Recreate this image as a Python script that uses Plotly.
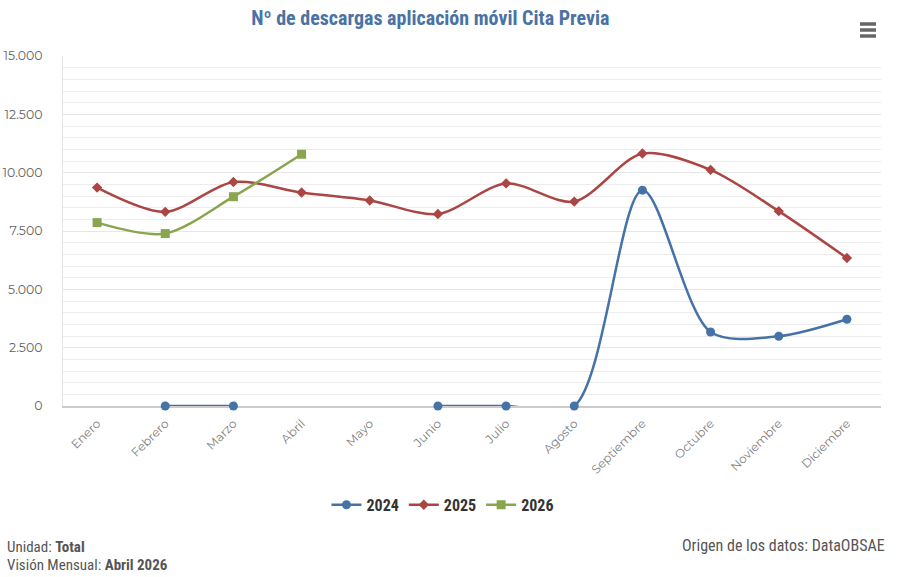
import plotly.graph_objects as go

meses = ["Enero", "Febrero", "Marzo", "Abril", "Mayo", "Junio", "Julio",
         "Agosto", "Septiembre", "Octubre", "Noviembre", "Diciembre"]
v2024 = [None, 0, 0, None, None, 0, 0, 0, 9250, 3170, 2990, 3720]
v2025 = [9360, 8320, 9600, 9150, 8810, 8230, 9540, 8760, 10820, 10120, 8350, 6340]
v2026 = [7860, 7390, 8970, 10790, None, None, None, None, None, None, None, None]
ytick_vals = [0, 2500, 5000, 7500, 10000, 12500, 15000]

narrow = "Liberation Sans Narrow, Roboto Condensed, Arial Narrow, sans-serif"

fig = go.Figure()
series = [
    ("2024", v2024, "#4572A7", "circle", 9),
    ("2025", v2025, "#AA4643", "diamond", 8),
    ("2026", v2026, "#89A54E", "square", 9),
]
for name, vals, color, sym, size in series:
    fig.add_trace(go.Scatter(
        x=meses, y=vals, name=name, mode="lines+markers",
        line=dict(color=color, width=2.5, shape="spline", smoothing=0.85),
        marker=dict(symbol=sym, size=size, color=color),
        connectgaps=False, cliponaxis=False,
    ))

fig.update_layout(
    width=904, height=577,
    margin=dict(l=63, r=23, t=56, b=171, autoexpand=False),
    paper_bgcolor="white", plot_bgcolor="white",
    separators=",.",
    title=dict(text="<b>Nº de descargas aplicación móvil Cita Previa</b>",
               x=0.476, xref="container", xanchor="center",
               y=0.968, yref="container", yanchor="middle", automargin=False,
               font=dict(family=narrow, size=20, color="#4a72a5")),
    showlegend=True,
    legend=dict(orientation="h", x=0.49, xref="container", xanchor="center",
                y=0.125, yref="container", yanchor="middle",
                font=dict(family=narrow, size=16, color="#333333", weight="bold"),
                itemwidth=30, tracegroupgap=0),
    xaxis=dict(
        type="category", tickangle=-45, automargin=False,
        range=[-0.5, len(meses) - 0.5],
        tickfont=dict(family="Montserrat, Open Sans, sans-serif", size=12, color="#808080"),
        showgrid=False, showline=True, linecolor="#cccccc", linewidth=1.5,
        ticks="", ticklabelstandoff=4, fixedrange=True, layer="below traces",
    ),
    yaxis=dict(
        range=[0, 15000], tickvals=ytick_vals, tickformat=",d", automargin=False,
        tickfont=dict(family="Montserrat, Open Sans, sans-serif", size=12.5, color="#666666"),
        showgrid=True, gridcolor="#e6e6e6", gridwidth=1,
        minor=dict(dtick=500, showgrid=True, gridcolor="#ececec", gridwidth=1),
        showline=True, linecolor="#e6e6e6", linewidth=1,
        zeroline=False, ticks="", ticklabelstandoff=17, fixedrange=True,
        layer="below traces",
    ),
    annotations=[
        dict(text="Unidad: <b>Total</b>", xref="paper", yref="paper",
             x=-58/818, y=-141/350, xanchor="left", yanchor="middle",
             showarrow=False, font=dict(family=narrow, size=15, color="#555555")),
        dict(text="Visión Mensual: <b>Abril 2026</b>", xref="paper", yref="paper",
             x=-58/818, y=-159/350, xanchor="left", yanchor="middle",
             showarrow=False, font=dict(family=narrow, size=15, color="#555555")),
        dict(text="Origen de los datos: DataOBSAE", xref="paper", yref="paper",
             x=1 + 6/818, y=-139/350, xanchor="right", yanchor="middle",
             showarrow=False, font=dict(family=narrow, size=16, color="#555555")),
    ],
    shapes=[
        dict(type="line", xref="paper", yref="paper",
             x0=(860-63)/818, x1=(876-63)/818, y0=(406-yy)/350, y1=(406-yy)/350,
             line=dict(color="#666666", width=3.5))
        for yy in (24, 30, 36)
    ],
)

fig.write_html("out.html", config={"displayModeBar": False},
               post_script="document.body.style.margin='0';document.body.style.padding='0';")
